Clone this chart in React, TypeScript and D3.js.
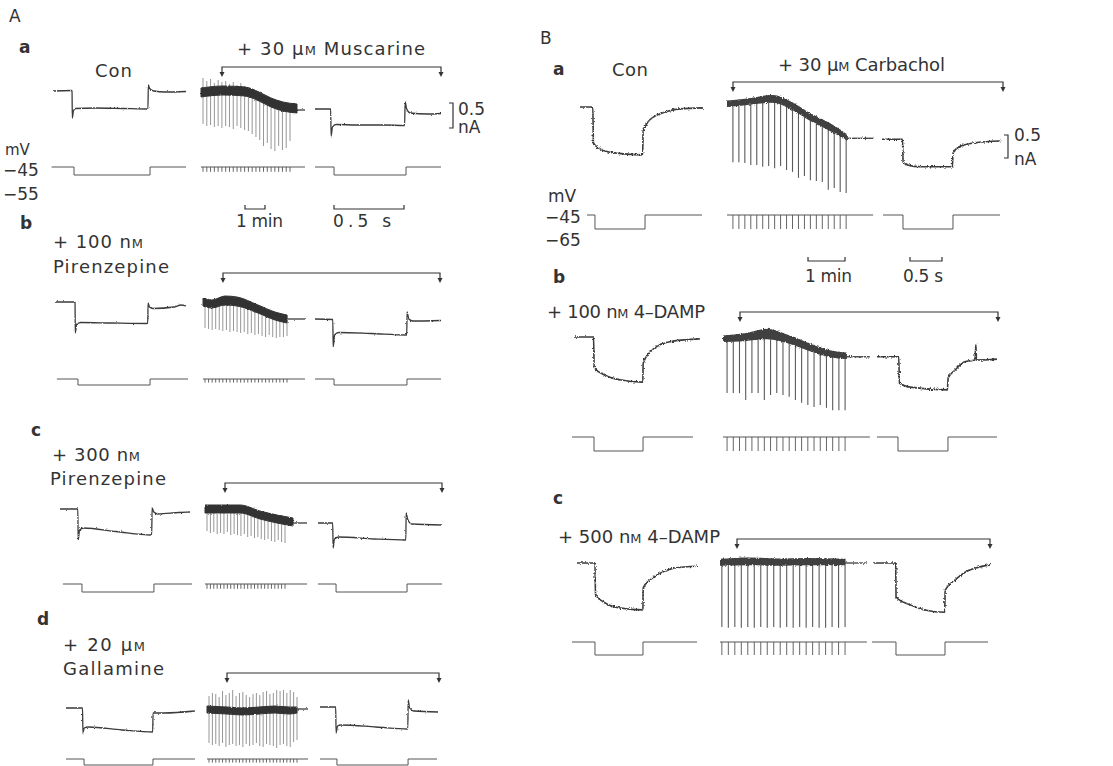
import React from 'react';
import * as d3 from 'd3';

type Pt = [number, number];
type Band = [number, number, number];

// command potentials (mV): holding, test
const cmdA = [-45, -55];
const cmdB = [-45, -65];
// how far the chart-recorder pen follows the test pulses
const tickToA = -51;
const tickToB = -65;

// ---- Panel A. current in nA relative to control holding current, sweeps in s, chart in min
const aaCon: Pt[] = [[0, 0], [0.13, 0.01], [0.136, 0], [0.138, -0.54], [0.146, -0.4], [0.16, -0.35], [0.3, -0.34], [0.5, -0.35], [0.678, -0.36], [0.681, 0.12], [0.69, 0.05], [0.72, 0.0], [0.8, -0.02], [0.95, -0.01]];
const aaAfter: Pt[] = [[0, -0.36], [0.112, -0.36], [0.115, -0.9], [0.125, -0.72], [0.15, -0.67], [0.3, -0.68], [0.5, -0.68], [0.64, -0.69], [0.644, -0.22], [0.655, -0.36], [0.68, -0.44], [0.8, -0.46], [0.9, -0.45]];
const aaConCmd = [-0.01, 0.15, 0.693, 0.95];
const aaAfterCmd = [0, 0.136, 0.65, 0.9];
const aaBand: Band[] = [[0, 0.06, -0.12], [1.1, 0.1, -0.08], [2.2, 0.08, -0.1], [2.9, -0.02, -0.2], [3.5, -0.14, -0.32], [4.1, -0.22, -0.4], [4.8, -0.26, -0.44]];
const aaTail: Pt[] = [[4.8, -0.38], [5.2, -0.38]];
const aaPulseSpan = [0.1, 4.45];
const aaPulseLow = [-0.66, -0.7, -0.68, -0.72, -0.7, -0.74, -0.7, -0.72, -0.76, -0.7, -0.74, -0.78, -0.8, -0.86, -0.92, -0.98, -1.1, -1.04, -1.16, -1.2, -1.1, -1.18, -1.14, -1.0];
const aaPulseHigh = [0.26, 0.2, 0.24, 0.16, 0.22, 0.18, 0.2, 0.14, 0.18, 0.12, 0.16, 0.1, 0.06, 0.04, 0.0, -0.04, -0.08, -0.1, -0.14, -0.16, -0.18, -0.22, -0.24, -0.26];

const abCon: Pt[] = [[0, 0], [0.14, 0], [0.143, -0.01], [0.145, -0.62], [0.155, -0.44], [0.19, -0.41], [0.4, -0.42], [0.662, -0.43], [0.665, -0.02], [0.675, -0.1], [0.7, -0.13], [0.85, -0.1], [0.9, -0.06], [0.936, -0.08]];
const abAfter: Pt[] = [[0, -0.34], [0.127, -0.35], [0.13, -0.9], [0.14, -0.66], [0.17, -0.61], [0.4, -0.63], [0.655, -0.66], [0.658, -0.2], [0.67, -0.34], [0.7, -0.38], [0.9, -0.37]];
const abConCmd = [0.014, 0.164, 0.679, 0.95];
const abAfterCmd = [0, 0.136, 0.657, 0.9];
const abBand: Band[] = [[0, 0.08, -0.08], [0.45, 0.04, -0.12], [1.1, 0.12, -0.06], [1.7, 0.1, -0.08], [2.75, -0.06, -0.22], [3.6, -0.2, -0.36], [4.2, -0.26, -0.42]];
const abTail: Pt[] = [[4.2, -0.34], [5.1, -0.34]];
const abPulseSpan = [0.1, 4.2];
const abPulseLow = [-0.52, -0.54, -0.56, -0.54, -0.56, -0.58, -0.56, -0.6, -0.58, -0.6, -0.62, -0.6, -0.64, -0.62, -0.66, -0.64, -0.68, -0.7, -0.66, -0.7, -0.72, -0.7, -0.7, -0.68];

const acCon: Pt[] = [[0, 0], [0.127, 0], [0.13, -0.62], [0.14, -0.42], [0.17, -0.38], [0.4, -0.45], [0.655, -0.52], [0.658, 0.02], [0.67, -0.06], [0.7, -0.1], [0.85, -0.07], [0.929, -0.06]];
const acAfter: Pt[] = [[0, -0.28], [0.105, -0.28], [0.108, -0.78], [0.118, -0.6], [0.15, -0.56], [0.4, -0.6], [0.627, -0.62], [0.63, -0.08], [0.64, -0.2], [0.67, -0.3], [0.886, -0.32]];
const acConCmd = [0.021, 0.157, 0.671, 0.943];
const acAfterCmd = [0, 0.129, 0.636, 0.886];
const acBand: Band[] = [[0, 0.08, -0.08], [1.75, 0.08, -0.08], [2.75, -0.04, -0.2], [3.6, -0.12, -0.28], [4.4, -0.18, -0.34]];
const acTail: Pt[] = [[4.4, -0.28], [5.1, -0.28]];
const acPulseSpan = [0.1, 4.0];
const acPulseLow = [-0.44, -0.48, -0.46, -0.5, -0.48, -0.5, -0.46, -0.52, -0.5, -0.52, -0.54, -0.5, -0.56, -0.54, -0.58, -0.56, -0.6, -0.62, -0.6, -0.64, -0.66, -0.62, -0.66, -0.68];

const adCon: Pt[] = [[0, 0], [0.118, 0], [0.121, -0.5], [0.13, -0.4], [0.16, -0.38], [0.4, -0.44], [0.619, -0.48], [0.622, -0.1], [0.7, -0.1], [0.92, -0.06]];
const adAfter: Pt[] = [[0, 0.02], [0.112, 0.02], [0.115, -0.5], [0.125, -0.36], [0.15, -0.34], [0.4, -0.38], [0.627, -0.42], [0.63, 0.16], [0.64, 0.0], [0.67, -0.06], [0.843, -0.08]];
const adConCmd = [0, 0.129, 0.621, 0.921];
const adAfterCmd = [0, 0.121, 0.629, 0.836];
const adBand: Band[] = [[0, 0.04, -0.1], [1.0, 0.02, -0.12], [1.8, 0.0, -0.14], [2.6, 0.02, -0.12], [3.4, 0.04, -0.1], [4.1, 0.02, -0.12], [4.5, 0.02, -0.1]];
const adTail: Pt[] = [[4.5, -0.02], [5.05, -0.02]];
const adPulseSpan = [0.1, 4.5];
const adPulseLow = [-0.7, -0.74, -0.72, -0.76, -0.7, -0.78, -0.74, -0.72, -0.76, -0.74, -0.78, -0.72, -0.76, -0.74, -0.7, -0.76, -0.78, -0.72, -0.74, -0.76, -0.8, -0.74, -0.72, -0.76, -0.78, -0.68, -0.64];
const adPulseHigh = [0.24, 0.3, 0.28, 0.22, 0.34, 0.26, 0.3, 0.36, 0.24, 0.3, 0.32, 0.26, 0.22, 0.28, 0.3, 0.26, 0.32, 0.34, 0.28, 0.3, 0.36, 0.34, 0.36, 0.3, 0.36, 0.32, 0.22];

// ---- Panel B (carbachol / 4-DAMP)
const baCon: Pt[] = [[0, 0], [0.2, 0], [0.21, -0.78], [0.3, -0.9], [0.45, -0.98], [0.7, -1.02], [0.98, -1.04], [0.985, -0.54], [1.06, -0.33], [1.17, -0.2], [1.33, -0.11], [1.56, -0.04], [1.92, -0.02]];
const baAfter: Pt[] = [[0, -0.7], [0.32, -0.7], [0.33, -1.2], [0.4, -1.26], [0.6, -1.3], [1.1, -1.3], [1.11, -1.0], [1.2, -0.87], [1.45, -0.78], [1.85, -0.74]];
const baConCmd = [0.109, 0.234, 1.016, 1.906];
const baAfterCmd = [0.016, 0.328, 1.109, 1.844];
const baBand: Band[] = [[0, 0.14, 0.0], [0.49, 0.18, 0.04], [1.24, 0.26, 0.09], [1.7, 0.13, -0.04], [2.24, -0.13, -0.3], [2.78, -0.35, -0.52], [3.24, -0.59, -0.72]];
const baTail: Pt[] = [[3.24, -0.68], [3.95, -0.68]];
const baPulseSpan = [0.16, 3.22];
const baPulseLow = [-1.2, -1.2, -1.22, -1.26, -1.26, -1.3, -1.28, -1.33, -1.28, -1.37, -1.41, -1.54, -1.5, -1.59, -1.61, -1.63, -1.8, -1.76, -1.85, -1.87];

const bbCon: Pt[] = [[0, 0], [0.29, 0], [0.3, -0.67], [0.47, -0.83], [0.7, -0.93], [1.06, -0.98], [1.065, -0.57], [1.17, -0.33], [1.33, -0.17], [1.53, -0.09], [1.95, -0.04]];
const bbAfter: Pt[] = [[0, -0.43], [0.34, -0.43], [0.35, -1.0], [0.52, -1.09], [1.1, -1.15], [1.112, -0.89], [1.22, -0.72], [1.37, -0.54], [1.53, -0.5], [1.545, -0.17], [1.555, -0.5], [1.875, -0.48]];
const bbConCmd = [-0.047, 0.297, 1.063, 1.844];
const bbAfterCmd = [0, 0.328, 1.109, 1.875];
const bbBand: Band[] = [[0, 0.03, -0.11], [0.59, 0.08, -0.09], [1.19, 0.18, -0.05], [1.81, 0.03, -0.15], [2.35, -0.14, -0.31], [2.89, -0.29, -0.44], [3.35, -0.34, -0.48]];
const bbTail: Pt[] = [[3.35, -0.43], [3.97, -0.43]];
const bbPulseSpan = [0.11, 3.3];
const bbPulseLow = [-1.22, -1.22, -1.22, -1.37, -1.22, -1.22, -1.37, -1.26, -1.22, -1.26, -1.3, -1.37, -1.43, -1.48, -1.52, -1.48, -1.54, -1.59, -1.59, -1.59];

const bcCon: Pt[] = [[0, 0], [0.28, 0], [0.29, -0.7], [0.44, -0.87], [0.67, -0.98], [1.03, -1.02], [1.035, -0.54], [1.14, -0.37], [1.3, -0.22], [1.53, -0.11], [1.875, -0.07]];
const bcAfter: Pt[] = [[0, 0], [0.355, 0], [0.36, -0.74], [0.58, -0.91], [0.81, -1.02], [1.12, -1.07], [1.128, -0.59], [1.28, -0.37], [1.44, -0.2], [1.6, -0.11], [1.83, -0.04]];
const bcConCmd = [-0.078, 0.281, 1.031, 1.875];
const bcAfterCmd = [-0.016, 0.359, 1.125, 1.797];
const bcBand: Band[] = [[0, 0.09, -0.06], [0.8, 0.12, -0.05], [1.6, 0.1, -0.06], [2.4, 0.11, -0.05], [3.38, 0.09, -0.05]];
const bcTail: Pt[] = [[3.38, 0], [3.97, 0]];
const bcPulseSpan = [0.05, 3.38];
const bcPulseLow = [-1.39, -1.41, -1.39, -1.41, -1.39, -1.41, -1.39, -1.41, -1.39, -1.41, -1.39, -1.41, -1.39, -1.41, -1.39, -1.41, -1.41, -1.39, -1.41, -1.39];

const rows = [
  { key: 'Aa', panel: 'A', letter: 'a', drug: ['+ 30 μ^M Muscarine'], con: aaCon, after: aaAfter, conCmd: aaConCmd, afterCmd: aaAfterCmd, band: aaBand, tail: aaTail, span: aaPulseSpan, low: aaPulseLow, high: aaPulseHigh },
  { key: 'Ab', panel: 'A', letter: 'b', drug: ['+ 100 n^M', 'Pirenzepine'], con: abCon, after: abAfter, conCmd: abConCmd, afterCmd: abAfterCmd, band: abBand, tail: abTail, span: abPulseSpan, low: abPulseLow, high: null },
  { key: 'Ac', panel: 'A', letter: 'c', drug: ['+ 300 n^M', 'Pirenzepine'], con: acCon, after: acAfter, conCmd: acConCmd, afterCmd: acAfterCmd, band: acBand, tail: acTail, span: acPulseSpan, low: acPulseLow, high: null },
  { key: 'Ad', panel: 'A', letter: 'd', drug: ['+ 20 μ^M', 'Gallamine'], con: adCon, after: adAfter, conCmd: adConCmd, afterCmd: adAfterCmd, band: adBand, tail: adTail, span: adPulseSpan, low: adPulseLow, high: adPulseHigh },
  { key: 'Ba', panel: 'B', letter: 'a', drug: ['+ 30 μ^M Carbachol'], con: baCon, after: baAfter, conCmd: baConCmd, afterCmd: baAfterCmd, band: baBand, tail: baTail, span: baPulseSpan, low: baPulseLow, high: null },
  { key: 'Bb', panel: 'B', letter: 'b', drug: ['+ 100 n^M 4–DAMP'], con: bbCon, after: bbAfter, conCmd: bbConCmd, afterCmd: bbAfterCmd, band: bbBand, tail: bbTail, span: bbPulseSpan, low: bbPulseLow, high: null },
  { key: 'Bc', panel: 'B', letter: 'c', drug: ['+ 500 n^M 4–DAMP'], con: bcCon, after: bcAfter, conCmd: bcConCmd, afterCmd: bcAfterCmd, band: bcBand, tail: bcTail, span: bcPulseSpan, low: bcPulseLow, high: null },
];

// ---- layout (pixels)
const scaleA = { pxS: 140, pxNA: 50, pxMin: 20 };
const scaleB = { pxS: 64, pxNA: 46, pxMin: 37 };
const pos: any = {
  Aa: { conX: 53, chartX: 201, afterX: 315, baseY: 91, vY: 167, vPx: 0.8, br: [222, 441, 67], letter: [19, 53], drug: [[237, 55, 188]] },
  Ab: { conX: 55, chartX: 203, afterX: 315, baseY: 302, vY: 379, vPx: 0.6, br: [223, 440, 273], letter: [20, 229], drug: [[53, 248, 90], [53, 273, 116]] },
  Ac: { conX: 60, chartX: 205, afterX: 318, baseY: 509, vY: 584, vPx: 0.8, br: [225, 442, 483], letter: [31, 436], drug: [[52, 461, 88], [50, 485, 116]] },
  Ad: { conX: 66, chartX: 207, afterX: 320, baseY: 708, vY: 759, vPx: 0.6, br: [227, 439, 673], letter: [37, 625], drug: [[63, 651, 82], [63, 675, 101]] },
  Ba: { conX: 580, chartX: 727, afterX: 882, baseY: 107, vY: 215, vPx: 0.7, br: [733, 1003, 82], letter: [553, 75], drug: [[778, 71, 167]] },
  Bb: { conX: 575, chartX: 723, afterX: 877, baseY: 337, vY: 437, vPx: 0.7, br: [740, 998, 312], letter: [553, 283], drug: [[547, 318, 158]] },
  Bc: { conX: 577, chartX: 720, afterX: 873, baseY: 563, vY: 642, vPx: 0.65, br: [737, 990, 539], letter: [553, 504], drug: [[558, 543, 162]] },
};

const INK = '#333';
const FONT = '"DejaVu Sans", Verdana, sans-serif';

const Label = ({ x, y, w, size = 18, bold = false, s }: any) => {
  const parts = String(s).split('^M');
  return (
    <text x={x} y={y} fontSize={size} fontWeight={bold ? 'bold' : 'normal'}
      textLength={w} lengthAdjust={w ? 'spacing' : undefined} fill={INK}>
      {parts.map((p: string, i: number) => (
        <React.Fragment key={i}>
          {p}
          {i < parts.length - 1 && <tspan fontSize={size * 0.72}>M</tspan>}
        </React.Fragment>
      ))}
    </text>
  );
};

const cmdPoints = (c: number[], lv: number[]): Pt[] => [
  [c[0], lv[0]], [c[1], lv[0]], [c[1], lv[1]], [c[2], lv[1]], [c[2], lv[0]], [c[3], lv[0]],
];

function Row({ r }: any) {
  const p = pos[r.key];
  const isA = r.panel === 'A';
  const s = isA ? scaleA : scaleB;
  const lv = isA ? cmdA : cmdB;
  const tickTo = isA ? tickToA : tickToB;
  const y = d3.scaleLinear().domain([0, -1]).range([p.baseY, p.baseY + s.pxNA]);
  const v = d3.scaleLinear().domain(lv).range([p.vY, p.vY + p.vPx * Math.abs(lv[1] - lv[0])]);
  const xCon = d3.scaleLinear().domain([0, 1]).range([p.conX, p.conX + s.pxS]);
  const xAft = d3.scaleLinear().domain([0, 1]).range([p.afterX, p.afterX + s.pxS]);
  const xCh = d3.scaleLinear().domain([0, 1]).range([p.chartX, p.chartX + s.pxMin]);

  const sweep = (x: any) => d3.line<Pt>().x(d => x(d[0])).y(d => y(d[1])).curve(d3.curveMonotoneX);
  const volt = (x: any) => d3.line<Pt>().x(d => x(d[0])).y(d => v(d[1]));
  const band = d3.area<Band>().x(d => xCh(d[0])).y0(d => y(d[1])).y1(d => y(d[2])).curve(d3.curveMonotoneX);
  const tail = d3.line<Pt>().x(d => xCh(d[0])).y(d => y(d[1]));
  const bandTop = d3.scaleLinear().domain(r.band.map((d: Band) => d[0])).range(r.band.map((d: Band) => d[1])).clamp(true);
  const px = d3.scalePoint<number>().domain(d3.range(r.low.length)).range([xCh(r.span[0]), xCh(r.span[1])]);
  const chartEnd = r.tail[r.tail.length - 1][0];
  const filt = isA ? 'url(#jitA)' : 'url(#jitB)';
  const [bx1, bx2, by] = p.br;

  return (
    <g>
      <Label x={p.letter[0]} y={p.letter[1]} size={17} bold s={r.letter} />
      {r.drug.map((d: string, i: number) => (
        <Label key={i} x={p.drug[i][0]} y={p.drug[i][1]} w={p.drug[i][2]} s={d} />
      ))}
      {/* drug application bracket */}
      <path d={`M${bx1},${by + 6}V${by}H${bx2}V${by + 6}`} fill="none" stroke={INK} strokeWidth={1.2} />
      <path d={`M${bx1 - 2.5},${by + 5}L${bx1},${by + 10}L${bx1 + 2.5},${by + 5}Z`} fill={INK} />
      <path d={`M${bx2 - 2.5},${by + 5}L${bx2},${by + 10}L${bx2 + 2.5},${by + 5}Z`} fill={INK} />

      {/* current records */}
      <g filter={filt}>
        <path d={sweep(xCon)(r.con) || ''} fill="none" stroke="#3a3a3a" strokeWidth={isA ? 1.3 : 1.6} />
        <path d={sweep(xAft)(r.after) || ''} fill="none" stroke="#3a3a3a" strokeWidth={isA ? 1.3 : 1.6} />
        <path d={tail(r.tail) || ''} fill="none" stroke="#3a3a3a" strokeWidth={1.3} />
      </g>
      <g>
        {r.low.map((lo: number, i: number) => {
          const t = xCh.invert(px(i) as number);
          const hi = r.high ? r.high[i] : bandTop(t);
          return (
            <line key={i} x1={px(i)} x2={px(i)} y1={y(hi)} y2={y(lo)}
              stroke={isA ? '#8a8a8a' : '#5a5a5a'} strokeWidth={isA ? 0.9 : 1.1} />
          );
        })}
      </g>
      <g filter={filt}>
        <path d={band(r.band) || ''} fill={isA ? '#333' : '#3f3f3f'} stroke={isA ? '#333' : 'none'} strokeWidth={1} />
      </g>

      {/* voltage records */}
      <path d={volt(xCon)(cmdPoints(r.conCmd, lv)) || ''} fill="none" stroke="#555" strokeWidth={1} />
      <path d={volt(xAft)(cmdPoints(r.afterCmd, lv)) || ''} fill="none" stroke="#555" strokeWidth={1} />
      <line x1={xCh(0)} x2={xCh(chartEnd)} y1={v(lv[0])} y2={v(lv[0])} stroke="#555" strokeWidth={1} />
      {r.low.map((_: number, i: number) => (
        <line key={i} x1={px(i)} x2={px(i)} y1={v(lv[0])} y2={v(tickTo)} stroke="#555" strokeWidth={0.9} />
      ))}
    </g>
  );
}

// scale bar values
const barNA = 0.5;
const barMin = 1;
const barS = 0.5;

export default function App() {
  return (
    <svg width={1113} height={766} style={{ position: 'absolute', left: 0, top: 0, background: '#fff' }} fontFamily={FONT}>
      <defs>
        <filter id="jitA" filterUnits="userSpaceOnUse" x={0} y={0} width={1113} height={766}>
          <feTurbulence type="fractalNoise" baseFrequency="0.7" numOctaves={2} seed={3} result="n" />
          <feDisplacementMap in="SourceGraphic" in2="n" scale={2.2} xChannelSelector="R" yChannelSelector="G" />
        </filter>
        <filter id="jitB" filterUnits="userSpaceOnUse" x={0} y={0} width={1113} height={766}>
          <feTurbulence type="fractalNoise" baseFrequency="0.6" numOctaves={2} seed={7} result="n" />
          <feDisplacementMap in="SourceGraphic" in2="n" scale={3.2} xChannelSelector="R" yChannelSelector="G" />
        </filter>
      </defs>
      <rect width={1113} height={766} fill="#fff" />

      <Label x={9} y={22} size={17} s="A" />
      <Label x={540} y={44} size={17} s="B" />

      {rows.map(r => <Row key={r.key} r={r} />)}

      {/* Panel A extras */}
      <Label x={95} y={77} w={37} s="Con" />
      <path d={`M449,103H453V${103 + barNA * scaleA.pxNA}H449`} fill="none" stroke={INK} strokeWidth={1.2} />
      <Label x={458} y={115} size={17} s="0.5" />
      <Label x={458} y={133} size={17} s="nA" />
      <Label x={5} y={155} size={15} s="mV" />
      <Label x={3} y={176} size={17} s="−45" />
      <Label x={3} y={200} size={17} s="−55" />
      <path d={`M245,205V209H${245 + barMin * scaleA.pxMin}V205`} fill="none" stroke={INK} strokeWidth={1.2} />
      <path d={`M334,205V209H${334 + barS * scaleA.pxS}V205`} fill="none" stroke={INK} strokeWidth={1.2} />
      <Label x={236} y={227} w={47} size={17} s="1 min" />
      <Label x={333} y={227} w={58} size={17} s="0.5 s" />

      {/* Panel B extras */}
      <Label x={612} y={76} w={36} s="Con" />
      <path d={`M1004,135H1008V${135 + barNA * scaleB.pxNA}H1004`} fill="none" stroke={INK} strokeWidth={1.2} />
      <Label x={1014} y={141} size={17} s="0.5" />
      <Label x={1014} y={165} size={17} s="nA" />
      <Label x={548} y={202} size={17} s="mV" />
      <Label x={545} y={223} size={17} s="−45" />
      <Label x={545} y={246} size={17} s="−65" />
      <path d={`M808,257V261H${808 + barMin * scaleB.pxMin}V257`} fill="none" stroke={INK} strokeWidth={1.2} />
      <path d={`M910,257V261H${910 + barS * scaleB.pxS}V257`} fill="none" stroke={INK} strokeWidth={1.2} />
      <Label x={805} y={282} w={47} size={17} s="1 min" />
      <Label x={903} y={282} w={40} size={17} s="0.5 s" />
    </svg>
  );
}
